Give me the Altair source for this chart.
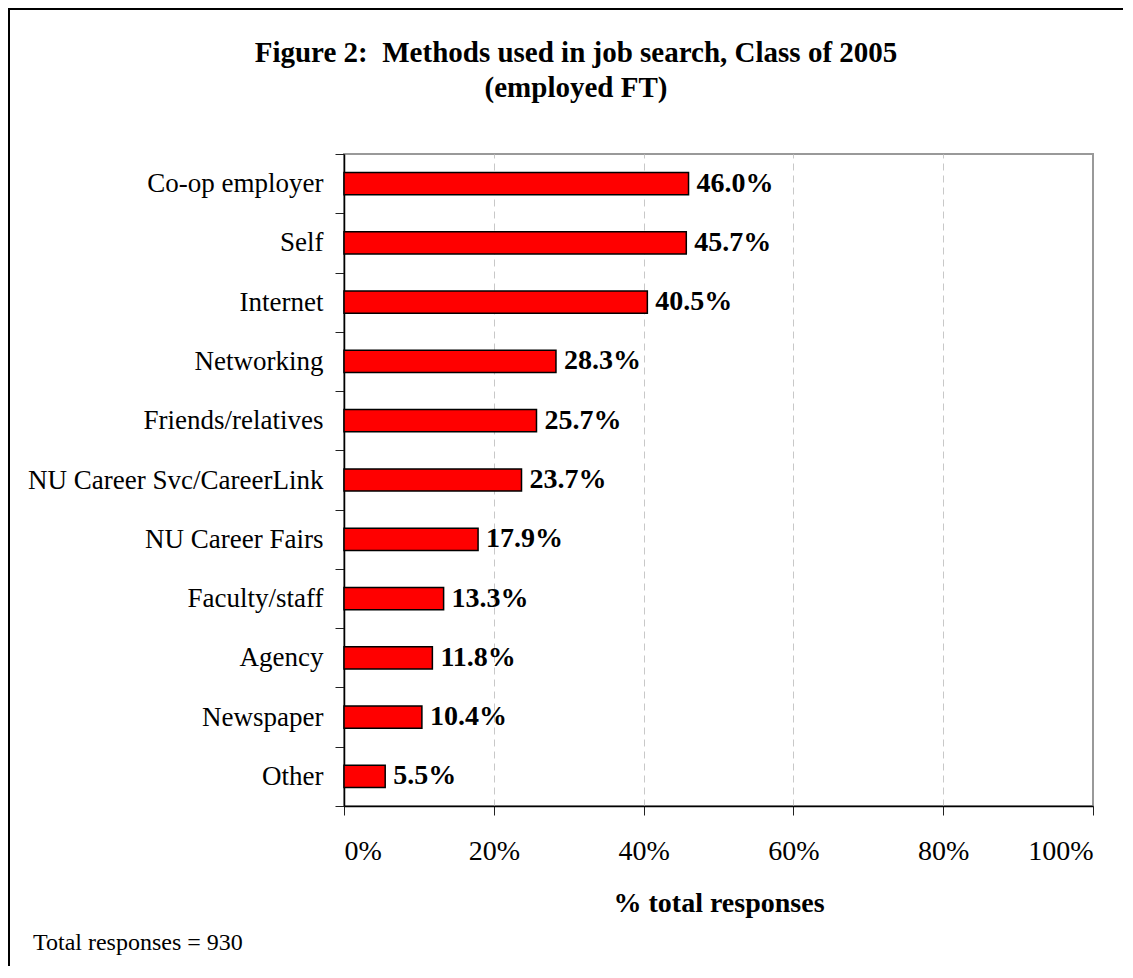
import altair as alt
import pandas as pd

categories = [
    "Co-op employer",
    "Self",
    "Internet",
    "Networking",
    "Friends/relatives",
    "NU Career Svc/CareerLink",
    "NU Career Fairs",
    "Faculty/staff",
    "Agency",
    "Newspaper",
    "Other",
]
values = [46.0, 45.7, 40.5, 28.3, 25.7, 23.7, 17.9, 13.3, 11.8, 10.4, 5.5]
x_ticks = [0, 20, 40, 60, 80, 100]
title_text = "Figure 2:\u00a0 Methods used in job search, Class of 2005\n(employed FT)"
x_title = "% total responses"
footnote = "Total responses = 930"

df = pd.DataFrame({"method": categories, "pct": values})
df["label"] = [f"{v:.1f}%" for v in values]

W, H = 749, 652
FONT = "Liberation Serif"

y_sort = categories

x_axis = alt.Axis(
    values=x_ticks,
    labelExpr="datum.value + '%'",
    labelFont=FONT,
    labelFontSize=28,
    labelColor="#000000",
    labelPadding=22,
    tickSize=9,
    tickColor="#222222",
    domainColor="#000000",
    domainWidth=1.5,
    grid=True,
    gridColor="#c8c8c8",
    gridDash=[7, 5],
    gridWidth=1,
    gridOpacity={"condition": {"test": "datum.value <= 0 || datum.value >= 100", "value": 0}, "value": 1},
    title=x_title,
    titleFont=FONT,
    titleFontSize=28,
    titleFontWeight="bold",
    titleColor="#000000",
    titleBaseline="alphabetic",
    titleY=105,
)

y_axis = alt.Axis(
    tickBand="extent",
    tickSize=9,
    tickColor="#222222",
    domainColor="#000000",
    domainWidth=1.5,
    labelFont=FONT,
    labelFontSize=27,
    labelColor="#000000",
    labelPadding=12,
    labelLimit=500,
    grid=False,
    title=None,
)

x_enc = alt.X("pct:Q", scale=alt.Scale(domain=[0, 100], nice=False), axis=x_axis)
y_enc = alt.Y("method:N", sort=y_sort, scale=alt.Scale(paddingInner=0, paddingOuter=0), axis=y_axis)

bars = alt.Chart(df).mark_bar(
    color="#ff0000", stroke="#000000", strokeWidth=1.5, height={"band": 0.375}
).encode(x=x_enc, y=y_enc)

labels = alt.Chart(df).mark_text(
    align="left", baseline="middle", dx=8, font=FONT, fontSize=28,
    fontWeight="bold", color="#000000"
).encode(x=alt.X("pct:Q"), y=alt.Y("method:N", sort=y_sort), text="label:N")

one = pd.DataFrame({"t": [title_text], "n": [footnote]})

frame = alt.Chart(one).mark_rect(
    fill="transparent", stroke="#000000", strokeWidth=2
).encode(
    x=alt.value(-335), x2=alt.value(W + 60),
    y=alt.value(-145), y2=alt.value(H + 300),
)

title = alt.Chart(one).mark_text(
    align="center", baseline="alphabetic", font=FONT, fontSize=29,
    fontWeight="bold", color="#000000", lineBreak="\n", lineHeight=35
).encode(x=alt.value(576 - 344), y=alt.value(62 - 154), text="t:N")

note = alt.Chart(one).mark_text(
    align="left", baseline="alphabetic", font=FONT, fontSize=24, color="#000000"
).encode(x=alt.value(33 - 344), y=alt.value(950 - 154), text="n:N")

chart = alt.layer(frame, bars, labels, title, note).properties(
    width=W,
    height=H,
    autosize=alt.AutoSizeParams(type="none"),
    padding={"left": 336, "top": 146, "right": 30, "bottom": 160},
    background="white",
).configure_view(stroke="#999999", strokeWidth=2)

chart.save("out.html", embed_options={"renderer": "svg", "actions": False})
